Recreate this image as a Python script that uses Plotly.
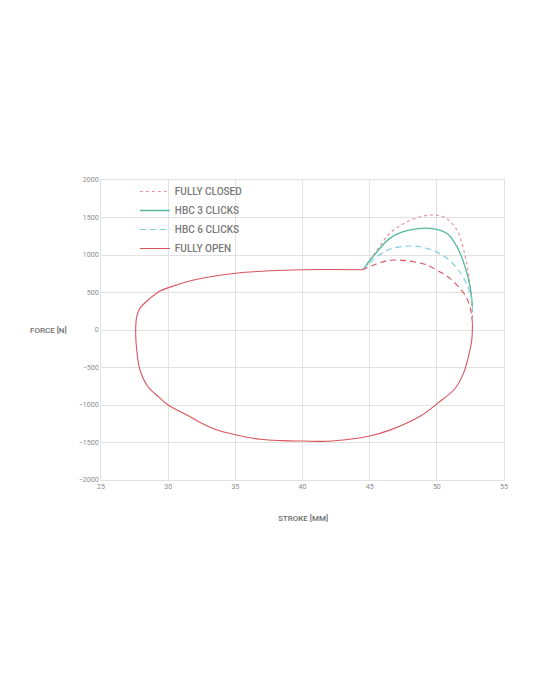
import plotly.graph_objects as go

# stroke [mm] / force [N]
open_x = [44.5, 40.06, 37.6, 35.05, 31.9, 30.1, 29.4, 28.65, 27.9, 27.66, 27.58, 27.66, 27.9,
          28.5, 29.27, 30.0, 31.4, 32.6, 33.6, 35.1, 36.84, 38.5, 40.07, 41.8, 43.5, 45.0,
          46.5, 48.75, 50.0, 51.36, 51.98, 52.35, 52.6, 52.65]
open_y = [804, 804, 791, 756, 667, 569, 520, 422, 289, 178, -9, -267, -533,
          -756, -889, -1000, -1133, -1253, -1330, -1400, -1457, -1475, -1480, -1484, -1457, -1413,
          -1335, -1150, -985, -780, -578, -356, -133, 89]

open_arc_x = [52.65, 52.47, 52.1, 51.6, 50.98, 50.2, 49.25, 48.25, 47.1, 46.3, 45.3, 44.5]
open_arc_y = [89, 311, 467, 578, 689, 778, 867, 911, 933, 924, 867, 804]

closed_x = [44.5, 45.3, 46.5, 47.8, 49.0, 49.9, 50.7, 51.5, 52.0, 52.35, 52.6, 52.65]
closed_y = [804, 1000, 1289, 1444, 1520, 1533, 1489, 1333, 1067, 756, 400, 133]

hbc3_x = [44.5, 45.3, 46.5, 47.76, 49.5, 50.74, 51.5, 52.1, 52.47, 52.65]
hbc3_y = [804, 990, 1222, 1324, 1356, 1289, 1111, 844, 578, 311]

hbc6_x = [44.5, 45.3, 46.5, 48.1, 49.5, 50.74, 51.6, 52.2, 52.6, 52.65]
hbc6_y = [804, 942, 1076, 1120, 1076, 956, 800, 622, 400, 200]

FONT = "Roboto, sans-serif"

fig = go.Figure()
fig.add_trace(go.Scatter(x=closed_x, y=closed_y, mode="lines", name="FULLY CLOSED",
                         line=dict(color="#e8939e", width=1.2, dash="3px,3px", shape="spline")))
fig.add_trace(go.Scatter(x=hbc3_x, y=hbc3_y, mode="lines", name="HBC 3 CLICKS",
                         line=dict(color="#55b99e", width=1.3, shape="spline")))
fig.add_trace(go.Scatter(x=hbc6_x, y=hbc6_y, mode="lines", name="HBC 6 CLICKS",
                         line=dict(color="#7fd0d8", width=1.2, dash="6px,4px", shape="spline")))
fig.add_trace(go.Scatter(x=open_x, y=open_y, mode="lines", name="FULLY OPEN",
                         line=dict(color="#d9545c", width=1.1, shape="spline")))
fig.add_trace(go.Scatter(x=open_arc_x, y=open_arc_y, mode="lines", showlegend=False,
                         line=dict(color="#d9545c", width=1.1, dash="6px,4px", shape="spline")))

axis_common = dict(showgrid=True, gridcolor="#e2e2e2", gridwidth=1, zeroline=False,
                   showline=True, linecolor="#e2e2e2", mirror=True, ticks="",
                   tickfont=dict(family=FONT, size=7, color="#8a8a8a"))

fig.update_layout(
    width=540, height=700,
    margin=dict(l=93, r=44, t=172, b=228),
    paper_bgcolor="white", plot_bgcolor="white",
    font=dict(family=FONT, color="#777777"),
    xaxis=dict(range=[25, 55], dtick=5, **axis_common),
    yaxis=dict(range=[-2000, 2000], dtick=500, **axis_common),
    legend=dict(x=0.084, y=1.01, xanchor="left", yanchor="top", bgcolor="rgba(0,0,0,0)",
                font=dict(family=FONT, size=10, color="#7a7a7a", weight=500), tracegroupgap=0,
                itemwidth=30),
    annotations=[
        dict(text="FORCE [N]", xref="paper", yref="paper", x=-0.079, y=0.5, xanchor="right",
             yanchor="middle", showarrow=False,
             font=dict(family=FONT, size=8, color="#6f6f6f", weight=500)),
        dict(text="STROKE [MM]", xref="paper", yref="paper", x=0.5, y=-0.127, xanchor="center",
             yanchor="middle", showarrow=False,
             font=dict(family=FONT, size=8, color="#6f6f6f", weight=500)),
    ],
)

fig.write_html("out.html")
